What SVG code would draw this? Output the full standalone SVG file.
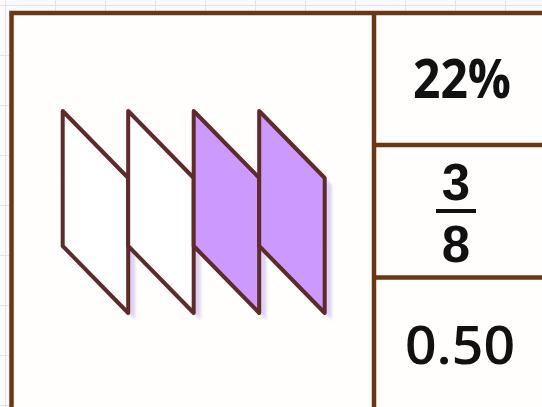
<svg xmlns="http://www.w3.org/2000/svg" width="542" height="407" viewBox="0 0 542 407">
  <defs>
    <pattern id="grid" x="5" y="5" width="50" height="50" patternUnits="userSpaceOnUse">
      <path d="M0 0V50M0 0H50" fill="none" stroke="#e6e0f5" stroke-width="2"/>
    </pattern>
    <filter id="blur" x="-20%" y="-20%" width="140%" height="140%">
      <feGaussianBlur stdDeviation="1.5"/>
    </filter>
    <style>
      .frame { fill: none; stroke: #6b3813; stroke-width: 4.5; }
      .cell { fill: #fffefc; }
      .para { stroke: #5e2a2a; stroke-width: 4; stroke-linejoin: round; }
      .empty { fill: #ffffff; }
      .full { fill: #cc99ff; }
      .shadow { fill: #ddd2f2; }
      .num { font-family: "Open Sans", "Liberation Sans", sans-serif; fill: #111111; text-anchor: middle; }
      .frac { font-family: "Liberation Sans", "Open Sans", sans-serif; fill: #111111; text-anchor: middle; font-weight: 700; }
    </style>
  </defs>
  <rect x="0" y="0" width="542" height="407" fill="#fbfaff"/>
  <rect x="0" y="0" width="542" height="407" fill="url(#grid)"/>

  <g id="table">
    <rect class="cell" x="11.5" y="13" width="540" height="400"/>
    <path class="frame" d="M11.5 420V13H560M374 13V420M374 145H560M374 277.5H560"/>
  </g>

  <g id="shadows" filter="url(#blur)">
    <polygon class="shadow" points="69.7,118 135.2,185 135.2,320 69.7,253"/>
    <polygon class="shadow" points="135.2,118 200.7,185 200.7,320 135.2,253"/>
    <polygon class="shadow" points="200.7,118 266.2,185 266.2,320 200.7,253"/>
    <polygon class="shadow" points="266.2,118 331.7,185 331.7,320 266.2,253"/>
  </g>

  <g id="part1">
    <polygon class="para empty" points="62.7,111 128.2,178 128.2,313 62.7,246"/>
  </g>
  <g id="part2">
    <polygon class="para empty" points="128.2,111 193.7,178 193.7,313 128.2,246"/>
  </g>
  <g id="part3">
    <polygon class="para full" points="193.7,111 259.2,178 259.2,313 193.7,246"/>
  </g>
  <g id="part4">
    <polygon class="para full" points="259.2,111 324.7,178 324.7,313 259.2,246"/>
  </g>

  <g id="percent">
    <text class="num" x="462" y="98" font-size="53" font-weight="700" textLength="98" lengthAdjust="spacingAndGlyphs">22%</text>
  </g>
  <g id="fraction">
    <text class="frac" x="456" y="200" font-size="51">3</text>
    <line x1="436" y1="211" x2="476" y2="211" stroke="#111111" stroke-width="4"/>
    <text class="frac" x="456" y="262" font-size="51">8</text>
  </g>
  <g id="decimal">
    <text class="num" x="460" y="364" font-size="53" font-weight="600" textLength="110" lengthAdjust="spacingAndGlyphs">0.50</text>
  </g>
</svg>
